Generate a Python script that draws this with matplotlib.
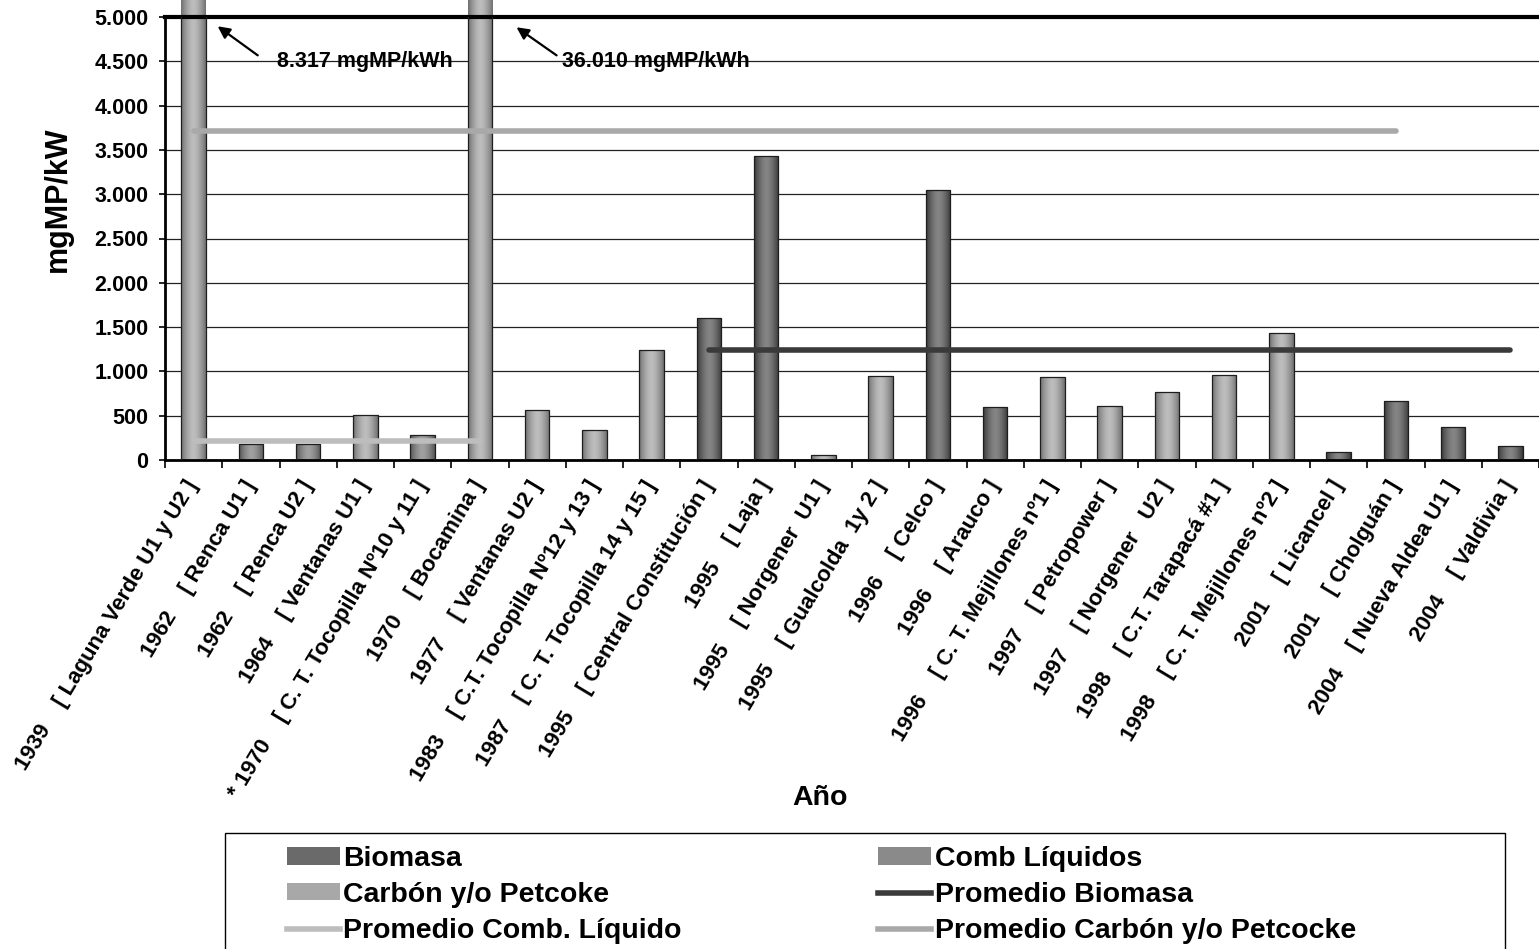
import numpy as np
import matplotlib
matplotlib.use("Agg")
import matplotlib.pyplot as plt
from matplotlib.patches import Patch, Rectangle
from matplotlib.lines import Line2D
from matplotlib.colors import LinearSegmentedColormap
from matplotlib.ticker import FuncFormatter

plt.rcParams['font.family'] = ['Liberation Sans', 'DejaVu Sans']
plt.rcParams['font.weight'] = 'bold'

# plants, in chart order
years = ['1939', '1962', '1962', '1964', '* 1970', '1970', '1977', '1983', '1987',
         '1995', '1995', '1995', '1995', '1996', '1996', '1996', '1997', '1997',
         '1998', '1998', '2001', '2001', '2004', '2004']
plants = ['Laguna Verde U1 y U2', 'Renca U1', 'Renca U2', 'Ventanas U1',
          'C. T. Tocopilla Nº10 y 11', 'Bocamina', 'Ventanas U2',
          'C.T. Tocopilla Nº12 y 13', 'C. T. Tocopilla 14 y 15',
          'Central Constitución', 'Laja', 'Norgener  U1', 'Gualcolda  1y 2',
          'Celco', 'Arauco', 'C. T. Mejillones nº1', 'Petropower',
          'Norgener   U2', 'C.T. Tarapacá #1', 'C. T. Mejillones nº2',
          'Licancel', 'Cholguán', 'Nueva Aldea U1', 'Valdivia']
# B = Biomasa, L = Comb Líquidos, C = Carbón y/o Petcoke
fuel = ['C', 'L', 'L', 'C', 'L', 'C', 'C', 'C', 'C', 'B', 'B', 'C', 'C', 'B',
        'B', 'C', 'C', 'C', 'C', 'C', 'B', 'B', 'B', 'B']
values = [8317, 185, 185, 508, 286, 36010, 565, 339, 1246, 1604, 3430, 60, 944,
          3050, 602, 933, 613, 764, 964, 1435, 86, 670, 376, 162]

# average lines: value, first and last category index
prom_biomasa = (1246, 9, 23)
prom_liquido = (218, 0, 5)
prom_carbon = (3709, 0, 21)

labels = [f'{y}    [ {p} ]' for y, p in zip(years, plants)]

# center / edge tones for the cylinder-like bars
tones = {
    'B': ('#858585', '#383838'),
    'L': ('#a0a0a0', '#555555'),
    'C': ('#bdbdbd', '#707070'),
}

fig = plt.figure(figsize=(15.39, 9.49), dpi=100)
ax = fig.add_axes([165 / 1539, 1 - 460 / 949, 1 - 165 / 1539, (460 - 17) / 949])

x = np.arange(len(values))
bars = ax.bar(x, values, width=0.43, facecolor='none', edgecolor='#1e1e1e',
              linewidth=0.9, zorder=3)

prof = 1 - np.abs(np.linspace(-1, 1, 64)) ** 1.6
for rect, f in zip(bars, fuel):
    x0, y0 = rect.get_x(), rect.get_y()
    w, h = rect.get_width(), rect.get_height()
    cm = LinearSegmentedColormap.from_list('c', [tones[f][1], tones[f][0]])
    im = ax.imshow(prof[None, :], extent=(x0, x0 + w, y0, y0 + h), aspect='auto',
                   cmap=cm, vmin=0, vmax=1, zorder=2.5)
    im.set_clip_path(rect)

for (v, a, b), col in [(prom_liquido, '#bdbdbd'), (prom_carbon, '#a9a9a9'),
                       (prom_biomasa, '#3a3a3a')]:
    ax.plot([a, b], [v, v], color=col, lw=4, solid_capstyle='round', zorder=4)

ax.set_xlim(-0.5, len(values) - 0.5)
ax.set_ylim(0, 5000)
ax.set_yticks(np.arange(0, 5001, 500))
ax.yaxis.set_major_formatter(FuncFormatter(lambda v, p: f'{int(v):,}'.replace(',', '.')))
ax.tick_params(axis='y', labelsize=15.5, length=4, width=1.2, pad=8)

ax.set_xticks(np.arange(-0.5, len(values), 1))
ax.set_xticklabels([])
ax.set_xticks(x, labels, minor=True, rotation=59, ha='right', va='center',
              rotation_mode='anchor', fontsize=16)
ax.tick_params(axis='x', which='major', length=6, width=1.2, direction='out')
ax.tick_params(axis='x', which='minor', length=0, pad=16)

ax.yaxis.grid(True, color='#222222', lw=0.9)
ax.set_axisbelow(True)
ax.spines['right'].set_visible(False)
ax.spines['left'].set_linewidth(2)
ax.spines['bottom'].set_linewidth(2)
ax.spines['top'].set_linewidth(3)

# call-outs for the two clipped bars
arrow = dict(arrowstyle='-|>', color='black', lw=1.6, mutation_scale=18,
             shrinkA=0, shrinkB=0)
ax.annotate('', xy=(0.42, 4895), xytext=(1.12, 4567), arrowprops=arrow)
ax.text(1.45, 4500, '8.317 mgMP/kWh', fontsize=15.5, fontweight='bold',
        va='center', ha='left')
ax.annotate('', xy=(5.64, 4884), xytext=(6.34, 4567), arrowprops=arrow)
ax.text(6.44, 4500, '36.010 mgMP/kWh', fontsize=15.5, fontweight='bold',
        va='center', ha='left')

fig.text(58 / 1539, 1 - 199 / 949, 'mgMP/kW', rotation=90, fontsize=22,
         fontweight='bold', ha='center', va='center')
fig.text(820 / 1539, 1 - 798 / 949, 'Año', fontsize=20.5, fontweight='bold',
         ha='center', va='center')

handles = [
    Patch(facecolor='#6a6a6a', edgecolor='none', label='Biomasa'),
    Patch(facecolor='#a8a8a8', edgecolor='none', label='Carbón y/o Petcoke'),
    Line2D([], [], color='#bdbdbd', lw=4, label='Promedio Comb. Líquido'),
    Patch(facecolor='#8a8a8a', edgecolor='none', label='Comb Líquidos'),
    Line2D([], [], color='#3a3a3a', lw=4, label='Promedio Biomasa'),
    Line2D([], [], color='#a9a9a9', lw=4, label='Promedio Carbón y/o Petcocke'),
]
fig.legend(handles=handles, loc='upper left', bbox_to_anchor=(287 / 1539, 1 - 846 / 949),
           ncol=2, frameon=False, fontsize=20.5, borderpad=0, borderaxespad=0,
           handlelength=1.86, handleheight=0.55, handletextpad=0.12,
           columnspacing=6.9, labelspacing=0.35)
fig.patches.append(Rectangle((225 / 1539, -0.01), (1505 - 225) / 1539, (949 - 833) / 949 + 0.01,
                             transform=fig.transFigure, fill=False, edgecolor='black', lw=1))

fig.savefig('out.png', dpi=100)
